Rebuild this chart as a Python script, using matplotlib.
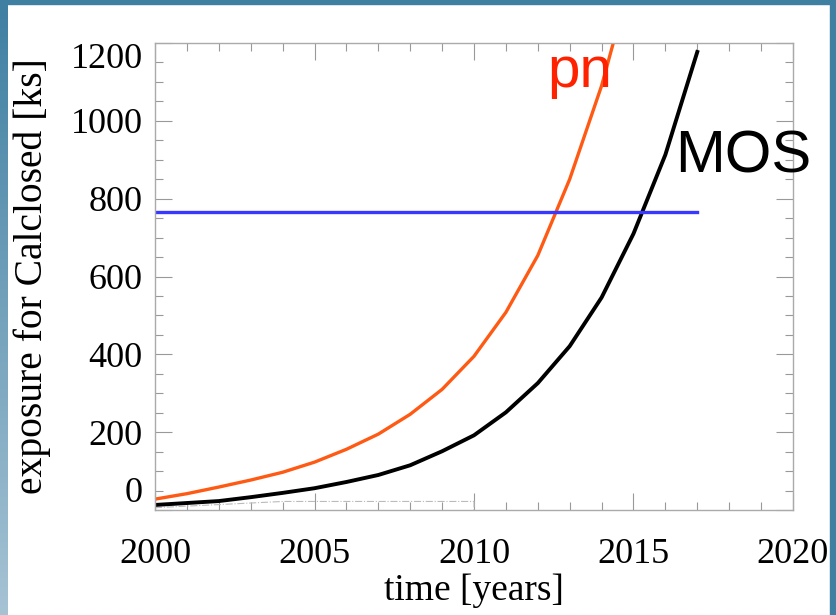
import matplotlib.pyplot as plt
from matplotlib.patches import Rectangle
import numpy as np

# 読み取った値
years = [2000, 2001, 2002, 2003, 2004, 2005, 2006, 2007, 2008,
         2009, 2010, 2011, 2012, 2013, 2014, 2015]
pn = [28, 42, 59, 77, 97, 123, 156, 195, 246,
      310, 395, 508, 654, 850, 1090, 1390]
mos_years = [2000, 2001, 2002, 2003, 2004, 2005, 2006, 2007, 2008,
             2009, 2010, 2011, 2012, 2013, 2014, 2015, 2016, 2017]
mos = [13, 18, 23, 33, 44, 56, 72, 90, 115,
       151, 192, 251, 326, 421, 546, 710, 913, 1177]
limit_x = [2000, 2017]
limit_y = [767, 767]
bg_x = [2000, 2004, 2010, 2010]
bg_y = [6, 22, 22, 0]

fig = plt.figure(figsize=(8.37, 6.15), dpi=100)
fig.patch.set_facecolor('white')

# スライド風の枠
fig.patches.append(Rectangle((0, 0.993), 1, 0.007, transform=fig.transFigure,
                             color='#3f7fa2', zorder=0))
fig.patches.append(Rectangle((0.992, 0), 0.008, 1, transform=fig.transFigure,
                             color='#3f7fa2', zorder=0))
grad = np.linspace(0, 1, 256).reshape(-1, 1)
ax_bg = fig.add_axes([0, 0, 0.0095, 1])
ax_bg.imshow(grad, aspect='auto', cmap=plt.matplotlib.colors.LinearSegmentedColormap.from_list(
    'side', ['#3f7fa2', '#a6c3d4']), extent=[0, 1, 0, 1])
ax_bg.axis('off')

ax = fig.add_axes([0.1852, 0.1707, 0.7622, 0.7594])
ax.plot(bg_x, bg_y, color='#bbbbbb', lw=0.8, ls='-.')
ax.plot(years, pn, color='#ff5a14', lw=2.4, clip_on=True)
ax.plot(mos_years, mos, color='black', lw=2.8)
ax.plot(limit_x, limit_y, color='#3838ff', lw=2.4)

ax.set_xlim(2000, 2020)
ax.set_ylim(0, 1200)
ax.set_xticks([2000, 2005, 2010, 2015, 2020])
ax.set_xticks(np.arange(2000, 2021, 1), minor=True)
ax.set_yticks(np.arange(0, 1201, 200))
ax.set_yticks(np.arange(0, 1201, 50), minor=True)

serif = 'Liberation Serif'
ax.tick_params(which='both', direction='in', top=True, right=True, color='#999999')
ax.tick_params(which='major', length=12, width=0.8)
ax.tick_params(which='minor', length=6, width=0.8)
ax.tick_params(axis='x', pad=20)
ax.tick_params(axis='y', pad=9)
for lab in ax.get_xticklabels() + ax.get_yticklabels():
    lab.set_fontfamily(serif)
    lab.set_fontsize(26)
ylabs = ax.get_yticklabels()
ylabs[0].set_va('bottom')
ylabs[-1].set_va('top')
for s in ax.spines.values():
    s.set_color('#aaaaaa')
    s.set_linewidth(1.0)

ax.set_xlabel('time [years]', fontfamily=serif, fontsize=27, labelpad=2)
ax.set_ylabel('exposure for Calclosed [ks]', fontfamily=serif, fontsize=28.5, labelpad=14)

ax.text(2013.3, 1125, 'pn', color='#ff2200', fontsize=42,
        fontfamily='Liberation Sans', ha='center', va='center')
ax.text(2018.45, 906, 'MOS', color='black', fontsize=43,
        fontfamily='Liberation Sans', ha='center', va='center', clip_on=False)

fig.savefig('out.png', dpi=100)
